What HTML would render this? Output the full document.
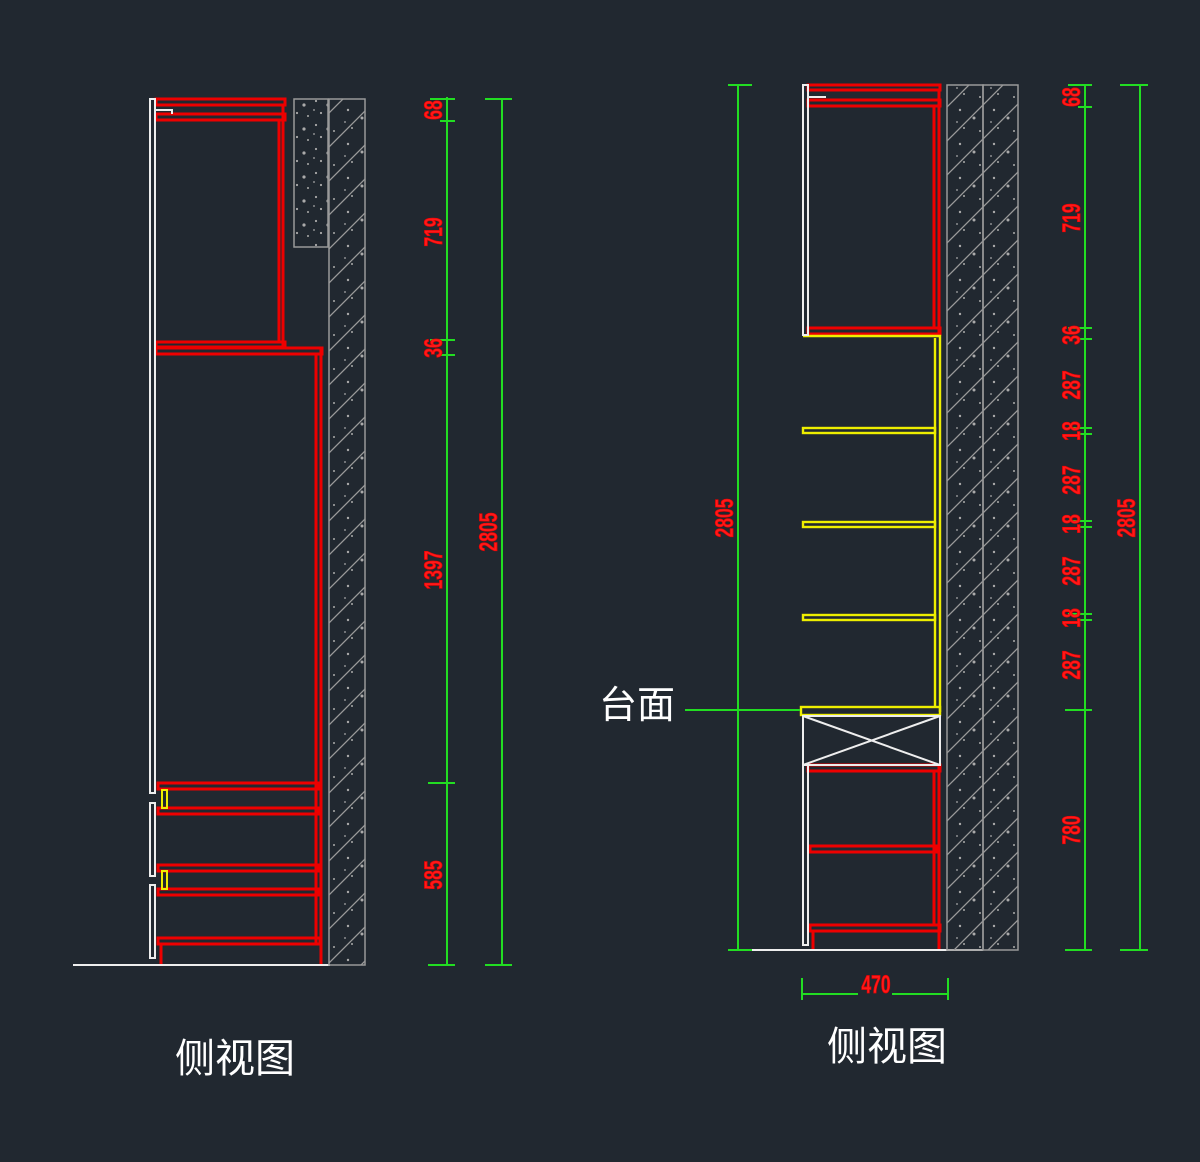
<!DOCTYPE html>
<html><head><meta charset="utf-8"><style>
html,body{margin:0;padding:0;background:#212830;}
svg{display:block}
.d{font-family:"Liberation Sans Narrow","Liberation Sans",sans-serif;fill:#ff1a1a;stroke:#e00;stroke-width:0.8;font-size:25px;font-weight:bold}
.t{font-family:"Liberation Sans","Noto Sans CJK SC",sans-serif;fill:#fff}
</style></head><body>
<svg width="1200" height="1162" viewBox="0 0 1200 1162" xmlns="http://www.w3.org/2000/svg">
<defs>
<pattern id="h" width="34" height="34" patternUnits="userSpaceOnUse">
<path d="M0 34 L34 0 M-10 10 L10 -10 M24 44 L44 24" stroke="#9a9a9a" stroke-width="1.3"/>
<circle cx="8" cy="8" r="1.2" fill="#aaa"/><circle cx="22" cy="16" r="1.5" fill="#aaa"/><circle cx="12" cy="26" r="1" fill="#aaa"/><circle cx="28" cy="29" r="1" fill="#aaa"/><circle cx="5" cy="20" r="0.9" fill="#aaa"/>
</pattern>
<pattern id="s" width="24" height="24" patternUnits="userSpaceOnUse">
<circle cx="4" cy="5" r="1.1" fill="#aaa"/><circle cx="16" cy="9" r="1.6" fill="#aaa"/><circle cx="9" cy="17" r="1.1" fill="#aaa"/><circle cx="20" cy="20" r="1" fill="#aaa"/><circle cx="2" cy="14" r="0.9" fill="#aaa"/>
</pattern>
</defs>
<rect width="1200" height="1162" fill="#212830"/>

<!-- LEFT DRAWING -->
<g fill="none" stroke="#e00" stroke-width="3">
<rect x="156" y="99" width="129" height="6"/>
<rect x="156" y="114" width="129" height="6"/>
<line x1="283" y1="105" x2="283" y2="346"/>
<line x1="279" y1="120" x2="279" y2="342"/>
<rect x="156" y="342" width="129" height="5"/>
<rect x="156" y="348" width="166" height="6"/>
<line x1="321" y1="348" x2="321" y2="965"/>
<line x1="316" y1="354" x2="316" y2="945"/>
<rect x="158" y="783" width="160" height="6"/>
<rect x="158" y="808" width="160" height="6"/>
<rect x="158" y="865" width="160" height="6"/>
<rect x="158" y="889" width="160" height="6"/>
<rect x="158" y="938" width="162" height="6"/>
<line x1="161" y1="944" x2="161" y2="965"/>
</g>
<g fill="none" stroke="#eee" stroke-width="2">
<rect x="150" y="99" width="5" height="694"/>
<rect x="150" y="803" width="5" height="73"/>
<rect x="150" y="885" width="5" height="73"/>
<path d="M155 110 H172 V114"/>
<line x1="73" y1="965" x2="330" y2="965"/>
</g>
<rect x="162" y="790" width="5" height="18" fill="none" stroke="#ee0" stroke-width="2"/>
<rect x="162" y="871" width="5" height="18" fill="none" stroke="#ee0" stroke-width="2"/>
<rect x="294" y="99" width="34" height="148" fill="url(#s)" stroke="#999" stroke-width="1.5"/>
<rect x="329" y="99" width="36" height="866" fill="url(#h)" stroke="#999" stroke-width="1.5"/>

<g stroke="#2d2" stroke-width="2">
<line x1="447" y1="97" x2="447" y2="965"/>
<line x1="430" y1="99" x2="455" y2="99"/><line x1="440" y1="121" x2="455" y2="121"/>
<line x1="430" y1="340" x2="455" y2="340"/><line x1="440" y1="355" x2="455" y2="355"/>
<line x1="428" y1="783" x2="455" y2="783"/><line x1="428" y1="965" x2="455" y2="965"/>
<line x1="502" y1="99" x2="502" y2="965"/>
<line x1="485" y1="99" x2="512" y2="99"/><line x1="485" y1="965" x2="512" y2="965"/>
</g>
<g class="d">
<text transform="translate(442,110) rotate(-90) scale(0.7,1)" text-anchor="middle">68</text>
<text transform="translate(442,232) rotate(-90) scale(0.7,1)" text-anchor="middle">719</text>
<text transform="translate(442,348) rotate(-90) scale(0.7,1)" text-anchor="middle">36</text>
<text transform="translate(442,570) rotate(-90) scale(0.7,1)" text-anchor="middle">1397</text>
<text transform="translate(442,875) rotate(-90) scale(0.7,1)" text-anchor="middle">585</text>
<text transform="translate(497,532) rotate(-90) scale(0.7,1)" text-anchor="middle">2805</text>
</g>
<text class="t" x="235" y="1072" font-size="40" text-anchor="middle">侧视图</text>

<!-- RIGHT DRAWING -->
<g fill="none" stroke="#e00" stroke-width="3">
<rect x="808" y="85" width="132" height="5"/>
<rect x="808" y="100" width="132" height="6"/>
<line x1="939" y1="90" x2="939" y2="335"/>
<line x1="934" y1="106" x2="934" y2="328"/>
<rect x="808" y="328" width="132" height="6"/>
<rect x="808" y="765" width="132" height="6"/>
<line x1="939" y1="765" x2="939" y2="950"/>
<line x1="934" y1="771" x2="934" y2="925"/>
<rect x="810" y="846" width="126" height="6"/>
<rect x="810" y="925" width="130" height="6"/>
<line x1="813" y1="931" x2="813" y2="950"/>
</g>
<g fill="none" stroke="#ee0" stroke-width="2.4">
<path d="M803 336 H940 V712"/>
<line x1="935" y1="338" x2="935" y2="707"/>
<rect x="803" y="428" width="132" height="5"/>
<rect x="803" y="522" width="132" height="5"/>
<rect x="803" y="615" width="132" height="5"/>
<rect x="801" y="707" width="139" height="8"/>
</g>
<g fill="none" stroke="#eee" stroke-width="2">
<rect x="803" y="85" width="5" height="250"/>
<path d="M808 97 H826"/>
<rect x="803" y="716" width="137" height="49"/>
<line x1="803" y1="716" x2="940" y2="765"/>
<line x1="803" y1="765" x2="940" y2="716"/>
<rect x="803" y="765" width="5" height="180"/>
<line x1="730" y1="950" x2="983" y2="950"/>
</g>
<rect x="947" y="85" width="36" height="865" fill="url(#h)" stroke="#999" stroke-width="1.5"/>
<rect x="983" y="85" width="35" height="865" fill="url(#h)" stroke="#999" stroke-width="1.5"/>

<g stroke="#2d2" stroke-width="2">
<line x1="738" y1="85" x2="738" y2="950"/>
<line x1="728" y1="85" x2="752" y2="85"/><line x1="728" y1="950" x2="752" y2="950"/>
<line x1="685" y1="710" x2="800" y2="710"/>
<line x1="1085" y1="85" x2="1085" y2="950"/>
<line x1="1068" y1="85" x2="1092" y2="85"/><line x1="1078" y1="107" x2="1092" y2="107"/>
<line x1="1068" y1="328" x2="1092" y2="328"/><line x1="1078" y1="339" x2="1092" y2="339"/>
<line x1="1068" y1="428" x2="1092" y2="428"/><line x1="1078" y1="434" x2="1092" y2="434"/>
<line x1="1068" y1="521" x2="1092" y2="521"/><line x1="1078" y1="527" x2="1092" y2="527"/>
<line x1="1068" y1="614" x2="1092" y2="614"/><line x1="1078" y1="620" x2="1092" y2="620"/>
<line x1="1065" y1="710" x2="1092" y2="710"/>
<line x1="1065" y1="950" x2="1092" y2="950"/>
<line x1="1140" y1="85" x2="1140" y2="950"/>
<line x1="1120" y1="85" x2="1148" y2="85"/><line x1="1120" y1="950" x2="1148" y2="950"/>
<line x1="802" y1="994" x2="948" y2="994"/>
<line x1="802" y1="978" x2="802" y2="1000"/><line x1="948" y1="978" x2="948" y2="1000"/>
</g>
<rect x="858" y="984" width="34" height="18" fill="#212830"/>
<g class="d">
<text transform="translate(1080,97) rotate(-90) scale(0.7,1)" text-anchor="middle">68</text>
<text transform="translate(1080,218) rotate(-90) scale(0.7,1)" text-anchor="middle">719</text>
<text transform="translate(1080,335) rotate(-90) scale(0.7,1)" text-anchor="middle">36</text>
<text transform="translate(1080,385) rotate(-90) scale(0.7,1)" text-anchor="middle">287</text>
<text transform="translate(1080,431) rotate(-90) scale(0.7,1)" text-anchor="middle">18</text>
<text transform="translate(1080,480) rotate(-90) scale(0.7,1)" text-anchor="middle">287</text>
<text transform="translate(1080,524) rotate(-90) scale(0.7,1)" text-anchor="middle">18</text>
<text transform="translate(1080,571) rotate(-90) scale(0.7,1)" text-anchor="middle">287</text>
<text transform="translate(1080,618) rotate(-90) scale(0.7,1)" text-anchor="middle">18</text>
<text transform="translate(1080,665) rotate(-90) scale(0.7,1)" text-anchor="middle">287</text>
<text transform="translate(1080,830) rotate(-90) scale(0.7,1)" text-anchor="middle">780</text>
<text transform="translate(1135,518) rotate(-90) scale(0.7,1)" text-anchor="middle">2805</text>
<text transform="translate(733,518) rotate(-90) scale(0.7,1)" text-anchor="middle">2805</text>
<text transform="translate(876,993) scale(0.7,1)" text-anchor="middle">470</text>
</g>
<text class="t" x="637" y="718" font-size="38" text-anchor="middle">台面</text>
<text class="t" x="887" y="1060" font-size="40" text-anchor="middle">侧视图</text>
</svg>
</body></html>
